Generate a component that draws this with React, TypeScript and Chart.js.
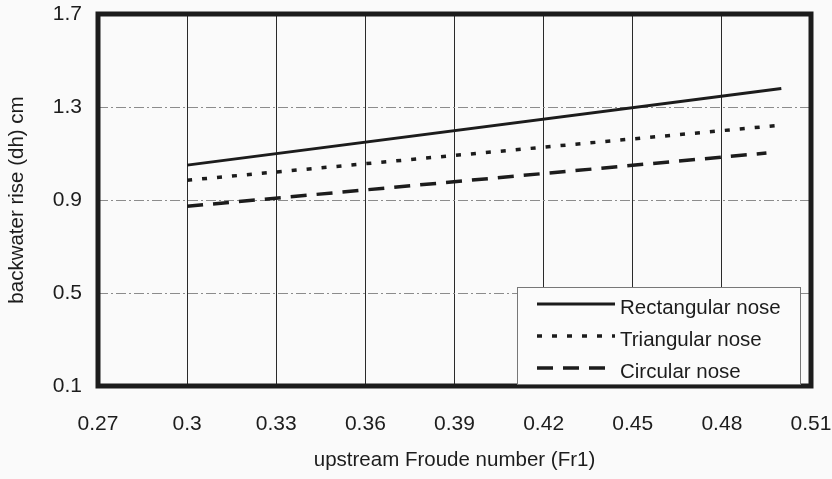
import React, { useEffect, useRef } from "react";
import { Chart, registerables } from "chart.js";

Chart.register(...registerables);

// ---- data ----
const seriesLabels = ["Rectangular nose", "Triangular nose", "Circular nose"];
const rectFr = [0.3, 0.5];
const rectDh = [1.05, 1.38];
const triFr = [0.3, 0.5];
const triDh = [0.985, 1.222];
const circFr = [0.3, 0.495];
const circDh = [0.873, 1.102];

const xMin = 0.27;
const xMax = 0.51;
const xStep = 0.03;
const yMin = 0.1;
const yMax = 1.7;
const yStep = 0.4;

const xTitle = "upstream Froude number (Fr1)";
const yTitle = "backwater rise (dh) cm";

const FONT = "'Liberation Sans', Arial, Helvetica, sans-serif";
const INK = "#1c1c1c";

const toPoints = (xs: number[], ys: number[]) => xs.map((x, i) => ({ x, y: ys[i] }));

const bgPlugin = {
  id: "paperBg",
  beforeDraw(chart: any) {
    const { ctx, width, height } = chart;
    ctx.save();
    ctx.fillStyle = "#fafafa";
    ctx.fillRect(0, 0, width, height);
    ctx.restore();
  },
};

const framePlugin = {
  id: "frame",
  afterDatasetsDraw(chart: any) {
    const { ctx, chartArea } = chart;
    ctx.save();
    ctx.setLineDash([]);
    ctx.strokeStyle = INK;
    ctx.lineWidth = 5;
    ctx.strokeRect(chartArea.left, chartArea.top, chartArea.right - chartArea.left, chartArea.bottom - chartArea.top);
    ctx.restore();
  },
};

const boxLegendPlugin = {
  id: "boxLegend",
  afterDraw(chart: any) {
    const { ctx, chartArea } = chart;
    const x0 = chartArea.right - 294;
    const y0 = chartArea.bottom - 99;
    const w = 283;
    const h = 97;
    ctx.save();
    ctx.fillStyle = "#fbfbfb";
    ctx.fillRect(x0, y0, w, h);
    ctx.strokeStyle = "#777";
    ctx.lineWidth = 1;
    ctx.setLineDash([]);
    ctx.strokeRect(x0 + 0.5, y0 + 0.5, w, h);
    chart.data.datasets.forEach((ds: any, i: number) => {
      const cy = y0 + 21 + i * 32;
      ctx.save();
      ctx.setLineDash(ds.borderDash || []);
      ctx.lineWidth = ds.borderWidth;
      ctx.strokeStyle = ds.borderColor;
      ctx.beginPath();
      ctx.moveTo(x0 + 20, cy - 4);
      ctx.lineTo(x0 + 98, cy - 4);
      ctx.stroke();
      ctx.restore();
      ctx.fillStyle = INK;
      ctx.font = `20.5px ${FONT}`;
      ctx.textBaseline = "middle";
      ctx.textAlign = "left";
      ctx.fillText(ds.label, x0 + 103, cy);
    });
    ctx.restore();
  },
};

export default function App() {
  const ref = useRef<HTMLCanvasElement | null>(null);

  useEffect(() => {
    if (!ref.current) return;
    const chart = new Chart(ref.current, {
      type: "line",
      data: {
        datasets: [
          {
            label: seriesLabels[0],
            data: toPoints(rectFr, rectDh),
            borderColor: INK,
            borderWidth: 3,
            borderDash: [],
            pointRadius: 0,
          },
          {
            label: seriesLabels[1],
            data: toPoints(triFr, triDh),
            borderColor: INK,
            borderWidth: 3.5,
            borderDash: [5, 10],
            pointRadius: 0,
          },
          {
            label: seriesLabels[2],
            data: toPoints(circFr, circDh),
            borderColor: INK,
            borderWidth: 3.5,
            borderDash: [16, 10],
            pointRadius: 0,
          },
        ],
      },
      options: {
        responsive: false,
        animation: false,
        devicePixelRatio: 1,
        layout: { padding: { top: 14, right: 21, left: 0, bottom: 0 } },
        plugins: {
          legend: { display: false },
          tooltip: { enabled: false },
        },
        scales: {
          x: {
            type: "linear",
            min: xMin,
            max: xMax,
            afterFit: (s: any) => {
              s.height = 93;
              s.paddingLeft = 0;
              s.paddingRight = 0;
            },
            ticks: {
              stepSize: xStep,
              padding: 26,
              color: INK,
              font: { family: FONT, size: 21 },
              maxRotation: 0,
              autoSkip: false,
              callback: (v: any) => Number(v).toFixed(2).replace(/0$/, ""),
            },
            grid: { color: "#2a2a2a", lineWidth: 1, drawTicks: false },
            border: { display: false },
            title: {
              display: true,
              text: xTitle,
              color: INK,
              font: { family: FONT, size: 20.5, lineHeight: 1.2 },
              padding: { top: 0, bottom: 6 },
            },
          },
          y: {
            type: "linear",
            min: yMin,
            max: yMax,
            afterFit: (s: any) => {
              s.width = 98;
              s.paddingTop = 0;
              s.paddingBottom = 0;
            },
            ticks: {
              stepSize: yStep,
              padding: 16,
              color: INK,
              font: { family: FONT, size: 21 },
              callback: (v: any) => Number(v).toFixed(1),
            },
            grid: { color: "#8c8c8c", lineWidth: 1, drawTicks: false },
            border: { display: false, dash: [10, 3, 2, 3] },
            title: {
              display: true,
              text: yTitle,
              color: INK,
              font: { family: FONT, size: 20.5, lineHeight: 1.2 },
              padding: { top: 5, bottom: 0 },
            },
          },
        },
      },
      plugins: [bgPlugin, framePlugin, boxLegendPlugin],
    });
    return () => chart.destroy();
  }, []);

  return (
    <div style={{ position: "absolute", left: 0, top: 0, width: 832, height: 479 }}>
      <canvas ref={ref} width={832} height={479} style={{ display: "block" }} />
    </div>
  );
}
